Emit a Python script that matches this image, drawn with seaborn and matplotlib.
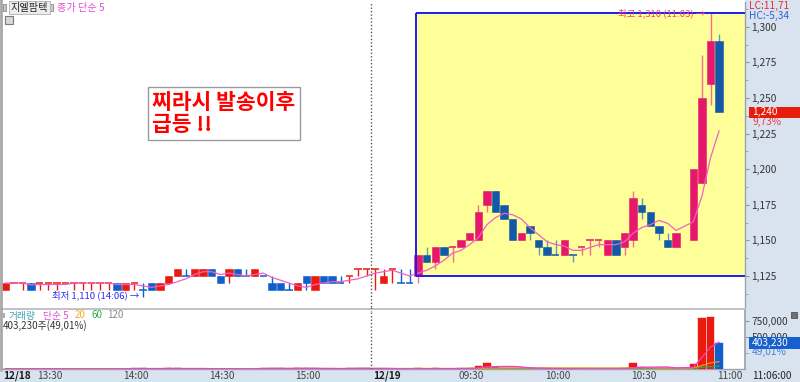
import numpy as np
import pandas as pd
import matplotlib
matplotlib.use("Agg")
import matplotlib.pyplot as plt
import matplotlib.transforms as mtransforms
from matplotlib.patches import Rectangle
from matplotlib.lines import Line2D
from matplotlib.ticker import FuncFormatter, MultipleLocator, FixedLocator
import seaborn as sns

sns.set_theme(style="white")
plt.rcParams["font.family"] = ["Noto Sans CJK KR", "DejaVu Sans"]
plt.rcParams["axes.unicode_minus"] = False

# ---------------- data (3-minute candles, 12/18 13:18 .. 12/19 11:06) ----------------
N = np.nan
opens = [1115, 1120, 1120, 1120, 1120, 1120, 1120, 1120, 1120, 1120,
         1120, 1120, 1120, 1120, 1115, 1120, 1115, 1120, 1115, 1120,
         1125, 1125, 1125, 1125, 1130, 1125, 1125, 1130, 1125, 1125,
         1125, 1120, 1120, 1115, 1115, 1125, 1115, 1125, 1125, 1120,
         1125, 1130, 1130, 1130, 1120, 1130, 1120, 1120, 1125, 1140,
         1135, 1145, 1145, 1145, 1150, 1150, 1175, 1185, 1175, 1165,
         1150, 1160, 1150, 1145, 1140, 1140, 1140, 1145, 1150, 1150,
         1140, 1150, 1145, 1150, 1175, 1170, 1160, 1150, 1145, N,
         1150, 1190, 1260, 1290]
highs = [1120, 1120, 1120, 1120, 1120, 1120, 1120, 1120, 1120, 1120,
         1120, 1120, 1120, 1120, 1120, 1120, 1120, 1120, 1120, 1125,
         1130, 1130, 1130, 1130, 1130, 1125, 1130, 1130, 1130, 1130,
         1125, 1125, 1120, 1120, 1120, 1125, 1125, 1125, 1125, 1125,
         1125, 1130, 1130, 1130, 1130, 1130, 1130, 1130, 1140, 1145,
         1145, 1145, 1145, 1150, 1155, 1175, 1185, 1185, 1175, 1165,
         1155, 1160, 1150, 1150, 1150, 1150, 1140, 1145, 1150, 1150,
         1150, 1150, 1155, 1185, 1180, 1170, 1160, 1155, 1155, N,
         1200, 1280, 1310, 1295]
lows = [1115, 1120, 1115, 1115, 1115, 1115, 1115, 1120, 1115, 1115,
        1115, 1115, 1115, 1115, 1115, 1115, 1110, 1115, 1115, 1120,
        1125, 1125, 1125, 1125, 1125, 1120, 1120, 1125, 1125, 1125,
        1125, 1115, 1115, 1115, 1115, 1115, 1115, 1120, 1120, 1120,
        1120, 1125, 1125, 1115, 1120, 1120, 1120, 1120, 1120, 1135,
        1130, 1140, 1135, 1145, 1150, 1150, 1170, 1170, 1165, 1150,
        1150, 1150, 1140, 1140, 1140, 1140, 1135, 1140, 1140, 1145,
        1140, 1140, 1140, 1145, 1165, 1160, 1150, 1145, 1145, N,
        1150, 1190, 1245, 1240]
closes = [1120, 1120, 1120, 1115, 1120, 1120, 1120, 1120, 1120, 1120,
          1120, 1120, 1120, 1115, 1120, 1120, 1115, 1115, 1120, 1125,
          1130, 1125, 1130, 1130, 1125, 1120, 1130, 1125, 1125, 1130,
          1125, 1115, 1115, 1115, 1120, 1120, 1125, 1120, 1120, 1120,
          1125, 1130, 1130, 1130, 1125, 1130, 1120, 1120, 1140, 1135,
          1145, 1140, 1145, 1150, 1155, 1170, 1185, 1170, 1165, 1150,
          1155, 1155, 1145, 1140, 1140, 1150, 1140, 1145, 1150, 1150,
          1150, 1140, 1155, 1180, 1170, 1160, 1155, 1145, 1155, N,
          1200, 1250, 1290, 1240]
volumes = [3000, 2000, 4000, 5000, 3000, 2000, 3000, 2000, 2000, 3000,
           2000, 3000, 4000, 6000, 5000, 15000, 8000, 5000, 6000, 15000,
           10000, 5000, 6000, 5000, 4000, 3000, 6000, 4000, 3000, 6000,
           15000, 16000, 8000, 4000, 15000, 8000, 10000, 6000, 5000, 3000,
           15000, 16000, 8000, 4000, 6000, 3000, 2000, 3000, 12000, 5000,
           10000, 4000, 3000, 8000, 20000, 45000, 90000, 28000, 16000, 22000,
           12000, 10000, 6000, 4000, 2000, 6000, 2000, 3000, 2000, 1500,
           3000, 5000, 8000, 90000, 30000, 16000, 14000, 10000, 12000, N,
           75000, 795000, 820000, 403230]

tick_pos = [3.5, 13.5, 23.5, 33.5, 42.5, 52.5, 62.5, 72.5, 82.5]
tick_labels = ["13:30", "14:00", "14:30", "15:00", "12/19", "09:30", "10:00", "10:30", "11:00"]
price_ticks = [1125, 1150, 1175, 1200, 1225, 1250, 1275, 1300]
vol_ticks = [500000, 750000]

df = pd.DataFrame({"o": opens, "h": highs, "l": lows, "c": closes, "v": volumes})
df["x"] = np.arange(len(df))
df = df.dropna().reset_index(drop=True)
df["ma5"] = df["c"].rolling(5, min_periods=1).mean()
df["vma5"] = df["v"].rolling(5, min_periods=1).mean()
df["vma20"] = df["v"].rolling(20, min_periods=1).mean()
df["vma60"] = df["v"].rolling(60, min_periods=1).mean()

# candle direction (doji: vs previous close, unchanged -> previous colour)
up = []
prev_c, prev_up = None, True
for o, c in zip(df["o"], df["c"]):
    if c > o:
        u = True
    elif c < o:
        u = False
    else:
        if prev_c is None or c == prev_c:
            u = prev_up
        else:
            u = c > prev_c
    up.append(u)
    prev_c, prev_up = c, u
df["up"] = up
vol_up = [True] + [df["v"].iloc[k] > df["v"].iloc[k - 1] for k in range(1, len(df))]

BOX_X = 47.8
RED, BLUE = "#ea1a10", "#1060cc"
RED_B, BLUE_B = "#e5186c", "#1459a8"

def body_col(row):
    inside = row.x >= 48
    if row.up:
        return RED_B if inside else RED
    return BLUE_B if inside else BLUE

def wick_col(row):
    inside = row.x >= 48
    if row.up:
        return "#f2708e" if inside else RED
    return "#5c9cb4" if inside else BLUE

df["bc"] = [body_col(r) for r in df.itertuples()]
df["wc"] = [wick_col(r) for r in df.itertuples()]

# ---------------- figure ----------------
W, H = 800, 382
fig = plt.figure(figsize=(8, 3.82), dpi=100)
BAND = "#d8e3ef"
fig.patch.set_facecolor(BAND)
fx = lambda px: px / W
fy = lambda py: 1 - py / H
fig.patches.append(Rectangle((0, fy(370)), fx(745), 1 - fy(370), transform=fig.transFigure,
                             facecolor="white", edgecolor="none", zorder=-5))

ax = fig.add_axes([fx(2), fy(307), (745 - 2) / W, (307 - 2) / H])
axv = fig.add_axes([fx(2), fy(369), (745 - 2) / W, (369 - 310) / H])
XL = (-0.384, 86.01)

# ---- price panel ----
ax.set_facecolor("white")
ax.set_xlim(*XL)
ax.set_ylim(1103.2, 1317.4)
ax.add_patch(Rectangle((BOX_X, 1125), XL[1] - BOX_X + 1, 185, facecolor="#ffff99",
                       edgecolor="none", zorder=0.5))

ax.vlines(df["x"], df["l"], df["h"], colors=df["wc"], lw=1, zorder=2)
bw = 0.86
body = (df["c"] - df["o"]).abs()
nd = body > 0
ax.bar(df["x"][nd], body[nd], bottom=np.minimum(df["o"], df["c"])[nd], width=bw,
       color=df["bc"][nd], edgecolor=df["bc"][nd], lw=0.4, zorder=3)
dj = ~nd
ax.hlines(df["c"][dj], df["x"][dj] - bw / 2, df["x"][dj] + bw / 2, colors=df["bc"][dj], lw=1.1, zorder=3)

sns.lineplot(x=df["x"], y=df["ma5"], ax=ax, color="#f060c8", lw=0.9, zorder=4)

# box outline
bl = "#1c1cf0"
ax.hlines([1310, 1125], BOX_X, XL[1] + 1, colors=bl, lw=1.4, zorder=5, clip_on=True)
ax.vlines(BOX_X, 1125, 1310, colors=bl, lw=1.4, zorder=5)

ax.axvline(42.5, color="#555555", ls=(0, (1, 1.5)), lw=1, zorder=6)

ax.text(81.4, 1309.3, "최고 1,310 (11:03) →", color="#f0406a", fontsize=6.8,
        ha="right", va="center", zorder=6)
ax.text(15.6, 1111.3, "최저 1,110 (14:06) →", color="#2a2af0", fontsize=6.8,
        ha="right", va="center", zorder=6)

ax.text(17.1, 1239, "찌라시 발송이후\n급등 !!", color="#ff0000", fontsize=15.5, fontweight="bold",
        ha="left", va="center", linespacing=1.1, zorder=7,
        bbox=dict(boxstyle="square,pad=0.22", facecolor="white", edgecolor="#9a9a9a", lw=1))

ax.yaxis.tick_right()
ax.yaxis.set_major_locator(FixedLocator(price_ticks))
ax.yaxis.set_minor_locator(MultipleLocator(12.5))
ax.yaxis.set_major_formatter(FuncFormatter(lambda v, p: f"{int(v):,}"))
ax.tick_params(axis="y", which="major", direction="out", length=3, width=0.8, color="#8a96a4",
               labelsize=7.3, labelcolor="#333333", pad=1.5)
ax.tick_params(axis="y", which="minor", direction="out", length=2, width=0.6, color="#8a96a4")
ax.set_xticks([])
ax.set_xlabel("")
ax.set_ylabel("")
for s in ["top", "left", "bottom"]:
    ax.spines[s].set_visible(False)
ax.spines["right"].set_color("#9aa4b0")
ax.spines["right"].set_linewidth(1)

# current price marker
tr = mtransforms.blended_transform_factory(ax.transAxes, ax.transData)
ax.add_patch(Rectangle((1.0055, 1236.1), 0.07, 7.8, transform=tr, facecolor="#e81c0c",
                       edgecolor="none", clip_on=False, zorder=8))
ax.text(1.0095, 1240, "1,240", transform=tr, color="white", fontsize=7.3, ha="left", va="center", zorder=9)
ax.text(1.0095, 1233.0, "9,73%", transform=tr, color="#e84040", fontsize=7.3, ha="left", va="center")

# ---- volume panel ----
axv.set_facecolor("white")
axv.set_xlim(*XL)
axv.set_ylim(0, 924765)
vcols = ["#ea1a10" if u else "#1060cc" for u in vol_up]
axv.bar(df["x"], df["v"], width=bw, color=vcols, edgecolor=vcols, lw=0.3, zorder=3)
sns.lineplot(x=df["x"], y=df["vma60"], ax=axv, color="#2ea84e", lw=0.9, zorder=4)
sns.lineplot(x=df["x"], y=df["vma20"], ax=axv, color="#ff9010", lw=0.9, zorder=4)
sns.lineplot(x=df["x"], y=df["vma5"], ax=axv, color="#f040c8", lw=0.9, zorder=4)
axv.axvline(42.5, color="#555555", ls=(0, (1, 1.5)), lw=1, zorder=6)
axv.yaxis.tick_right()
axv.yaxis.set_major_locator(FixedLocator(vol_ticks))
axv.yaxis.set_minor_locator(FixedLocator([250000]))
axv.yaxis.set_major_formatter(FuncFormatter(lambda v, p: f"{int(v):,}"))
axv.tick_params(axis="y", which="major", direction="out", length=3, width=0.8, color="#8a96a4",
                labelsize=7.3, labelcolor="#333333", pad=1.5)
axv.tick_params(axis="y", which="minor", direction="out", length=2, width=0.6, color="#8a96a4")
axv.set_xlabel("")
axv.set_ylabel("")
for s in ["top", "left"]:
    axv.spines[s].set_visible(False)
axv.spines["right"].set_color("#9aa4b0")
axv.spines["bottom"].set_color("#9aa4b0")
axv.spines["bottom"].set_linewidth(1)

# x axis band
axv.set_xticks(tick_pos + [40.5])
axv.set_xticklabels([])
axv.tick_params(axis="x", which="major", direction="out", length=9, width=0.8, color="#a4b2c2")
xtr = axv.get_xaxis_transform()
for t, lab in zip(tick_pos, tick_labels):
    bold = lab == "12/19"
    axv.text(t + 0.25, -0.12, lab, transform=xtr, fontsize=7.3, ha="left", va="center",
             color="#1a1a1a" if bold else "#444444", fontweight="bold" if bold else "normal",
             clip_on=False)
axv.text(-0.2, -0.12, "12/18", transform=xtr, fontsize=7.3, ha="left", va="center",
         color="#1a1a1a", fontweight="bold", clip_on=False)

trv = mtransforms.blended_transform_factory(axv.transAxes, axv.transData)
axv.add_patch(Rectangle((1.0055, 320000), 0.072, 175000, transform=trv, facecolor="#1560cc",
                        edgecolor="none", clip_on=False, zorder=8))
axv.text(1.0095, 403230, "403,230", transform=trv, color="white", fontsize=7.3,
         ha="left", va="center", zorder=9)
axv.text(1.0095, 262000, "49,01%", transform=trv, color="#4a7ee0", fontsize=7.3,
         ha="left", va="center")

# ---- separators / borders ----
fig.add_artist(Line2D([fx(0), fx(745)], [fy(308.5), fy(308.5)], transform=fig.transFigure,
                      color="#b8b8b8", lw=1.2))
fig.add_artist(Line2D([fx(1), fx(1)], [fy(0), fy(370)], transform=fig.transFigure,
                      color="#a8a8a8", lw=2))
fig.add_artist(Line2D([fx(370.5), fx(370.5)], [fy(307), fy(311)], transform=fig.transFigure,
                      color="#555555", lw=1, ls=(0, (1, 1.5))))

# ---- header texts ----
fig.patches.append(Rectangle((fx(3), fy(11)), fx(3), 7 / H, transform=fig.transFigure,
                             facecolor="#c8c8c8", edgecolor="#888888", lw=0.6))
fig.text(fx(11), fy(7.5), "지엘팜텍", fontsize=7.3, color="#222222", ha="left", va="center",
         bbox=dict(boxstyle="square,pad=0.15", facecolor="#ececec", edgecolor="#b0b0b0", lw=0.6))
fig.patches.append(Rectangle((fx(50), fy(11)), fx(3), 7 / H, transform=fig.transFigure,
                             facecolor="#c8c8c8", edgecolor="#888888", lw=0.6))
fig.text(fx(57), fy(7.5), "종가 단순 5", fontsize=7.3, color="#e050d0", ha="left", va="center")
fig.patches.append(Rectangle((fx(5), fy(24)), fx(8), 8 / H, transform=fig.transFigure,
                             facecolor="#d8d8d8", edgecolor="#7a7a7a", lw=0.8))

fig.patches.append(Rectangle((fx(3), fy(318)), fx(2), 5 / H, transform=fig.transFigure,
                             facecolor="#b0b0b0", edgecolor="none"))
fig.text(fx(9), fy(315.5), "거래량", fontsize=7, color="#3aa6b9", ha="left", va="center")
fig.text(fx(43), fy(315.5), "단순 5", fontsize=7, color="#e050d0", ha="left", va="center")
fig.text(fx(75), fy(315.5), "20", fontsize=7, color="#f5a623", ha="left", va="center")
fig.text(fx(91), fy(315.5), "60", fontsize=7, color="#2ea84e", ha="left", va="center")
fig.text(fx(107), fy(315.5), "120", fontsize=7, color="#888888", ha="left", va="center")
fig.text(fx(3), fy(325.5), "403,230주(49,01%)", fontsize=7, color="#333333", ha="left", va="center")

fig.text(fx(749), fy(6), "LC:11,71", fontsize=7.3, color="#e03030", ha="left", va="center")
fig.text(fx(749), fy(16), "HC:-5,34", fontsize=7.3, color="#3060e0", ha="left", va="center")
fig.text(fx(752), fy(376), "11:06:00", fontsize=7.3, color="#222222", ha="left", va="center")
fig.patches.append(Rectangle((fx(791), fy(318)), fx(6), 6 / H, transform=fig.transFigure,
                             facecolor="#707070", edgecolor="#404040", lw=0.5))

fig.savefig("out.png", dpi=100, facecolor=fig.get_facecolor())
